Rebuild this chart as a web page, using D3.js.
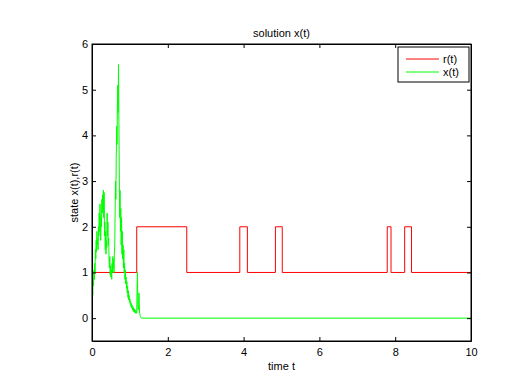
<!DOCTYPE html>
<html>
<head>
<meta charset="utf-8">
<script src="https://cdn.jsdelivr.net/npm/d3@7"></script>
<style>
  body { margin: 0; background: #fff; }
  svg text { font-family: "Liberation Sans", Arial, sans-serif; fill: #000; }
</style>
</head>
<body>
<svg id="chart" width="515" height="376"></svg>
<script>
// r(t): switch times and the value held from each time on
const rTimes = [0, 1.18, 2.5, 3.9, 4.1, 4.84, 5.02, 7.79, 7.89, 8.25, 8.43, 10];
const rValues = [1, 2, 1, 2, 1, 2, 1, 2, 1, 2, 1, 1];

// x(t): sampled every 0.01 from t = 0 to 1.30, then zero to t = 10
const xStep = 0.01;
const xValues = [
  0.55, 0.75, 0.5, 0.9, 0.7, 1.05, 0.85, 1.2, 1.0, 1.5,
  1.3, 1.7, 1.45, 1.9, 1.6, 1.75, 1.5, 2.0, 1.8, 2.3,
  1.9, 2.5, 2.1, 1.7, 2.2, 2.0, 2.6, 2.3, 2.7, 2.4,
  2.8, 2.2, 2.75, 1.8, 2.1, 1.5, 1.9, 1.4, 1.7, 1.55,
  2.3, 1.8, 2.1, 1.6, 1.75, 1.3, 1.1, 1.35, 0.95, 1.15,
  0.9, 1.05, 0.85, 1.2, 1.0, 1.35, 1.1, 1.3, 1.0, 1.4,
  1.6, 2.3, 3.0, 2.6, 3.5, 4.2, 3.8, 4.6, 5.1, 4.5,
  5.55, 4.3, 3.2, 2.2, 2.8, 1.9, 2.4, 1.6, 2.2, 1.4,
  1.9, 1.3, 1.6, 1.1, 1.5, 1.0, 1.2, 0.85, 1.05, 0.75,
  0.9, 0.65, 0.8, 0.55, 0.7, 0.45, 0.6, 0.4, 0.5, 0.35,
  0.42, 0.3, 0.36, 0.25, 0.32, 0.22, 0.28, 0.18, 0.25, 0.15,
  0.22, 0.14, 0.2, 0.12, 0.18, 0.15, 0.1, 0.16, 0.12, 0.7,
  1.0, 0.25, 0.18, 0.3, 0.55, 0.2, 0.1, 0.06, 0.03, 0.01,
  0
];
const xTail = [[10, 0]];

const xTicks = [0, 2, 4, 6, 8, 10];
const yTicks = [0, 1, 2, 3, 4, 5, 6];
const legendLabels = ["r(t)", "x(t)"];
const colors = ["#ff0000", "#00ff00"];

const margin = { top: 44, right: 44, bottom: 35, left: 92 };
const width = 515, height = 376;

const svg = d3.select("#chart");

const xScale = d3.scaleLinear().domain([0, 10])
  .range([margin.left, width - margin.right]);
const yScale = d3.scaleLinear().domain([-0.5, 6])
  .range([height - margin.bottom, margin.top]);

const plotG = svg.append("g");

svg.append("clipPath").attr("id", "clip")
  .append("rect")
  .attr("x", margin.left).attr("y", margin.top)
  .attr("width", width - margin.left - margin.right)
  .attr("height", height - margin.top - margin.bottom);

// red step line
const rData = rTimes.map((t, i) => [t, rValues[i]]);
const stepLine = d3.line()
  .x((d) => xScale(d[0]))
  .y((d) => yScale(d[1]))
  .curve(d3.curveStepAfter);

plotG.append("path")
  .datum(rData)
  .attr("fill", "none")
  .attr("stroke", colors[0])
  .attr("stroke-width", 1)
  .attr("d", stepLine);

// green noisy line
const xData = xValues.map((v, i) => [i * xStep, v]).concat(xTail);
const line = d3.line()
  .x((d) => xScale(d[0]))
  .y((d) => yScale(d[1]));

plotG.append("path")
  .datum(xData)
  .attr("fill", "none")
  .attr("stroke", colors[1])
  .attr("stroke-width", 1)
  .attr("d", line);

plotG.attr("clip-path", "url(#clip)");

// axes, matlab style: ticks inside on all four sides
const tickLen = 4;
const axG = svg.append("g");

axG.append("g")
  .attr("transform", `translate(0,${height - margin.bottom})`)
  .call(d3.axisBottom(xScale).tickValues(xTicks).tickFormat(d3.format("d"))
    .tickSizeInner(-tickLen).tickSizeOuter(0).tickPadding(7));
axG.append("g")
  .attr("transform", `translate(0,${margin.top})`)
  .call(d3.axisTop(xScale).tickValues(xTicks).tickSizeInner(-tickLen).tickSizeOuter(0).tickFormat(""));
axG.append("g")
  .attr("transform", `translate(${margin.left},0)`)
  .call(d3.axisLeft(yScale).tickValues(yTicks).tickFormat(d3.format("d"))
    .tickSizeInner(-tickLen).tickSizeOuter(0).tickPadding(4));
axG.append("g")
  .attr("transform", `translate(${width - margin.right},0)`)
  .call(d3.axisRight(yScale).tickValues(yTicks).tickSizeInner(-tickLen).tickSizeOuter(0).tickFormat(""));

axG.selectAll(".domain").attr("stroke", "#000");
axG.selectAll(".tick line").attr("stroke", "#000");
axG.selectAll(".tick text")
  .style("font-family", "'Liberation Sans', Arial, sans-serif")
  .style("font-size", "11px")
  .attr("fill", "#000");

svg.append("rect")
  .attr("x", margin.left).attr("y", margin.top)
  .attr("width", width - margin.left - margin.right)
  .attr("height", height - margin.top - margin.bottom)
  .attr("fill", "none")
  .attr("stroke", "#000")
  .attr("stroke-width", 1);

// titles
svg.append("text")
  .attr("x", (margin.left + width - margin.right) / 2)
  .attr("y", 37)
  .attr("text-anchor", "middle")
  .style("font-size", "11px")
  .text("solution x(t)");

svg.append("text")
  .attr("x", (margin.left + width - margin.right) / 2)
  .attr("y", 370)
  .attr("text-anchor", "middle")
  .style("font-size", "11px")
  .text("time t");

svg.append("text")
  .attr("transform", `translate(78,${(margin.top + height - margin.bottom) / 2}) rotate(-90)`)
  .attr("text-anchor", "middle")
  .style("font-size", "11px")
  .text("state x(t),r(t)");

// legend
const legendG = svg.append("g").attr("transform", "translate(398,47)");
legendG.append("rect")
  .attr("width", 71).attr("height", 35)
  .attr("fill", "#fff")
  .attr("stroke", "#000");
legendLabels.forEach((label, i) => {
  const y = 12 + i * 13;
  legendG.append("line")
    .attr("x1", 8).attr("x2", 41)
    .attr("y1", y).attr("y2", y)
    .attr("stroke", colors[i]);
  legendG.append("text")
    .attr("x", 45).attr("y", y + 4)
    .style("font-size", "11px")
    .text(label);
});
</script>
</body>
</html>
